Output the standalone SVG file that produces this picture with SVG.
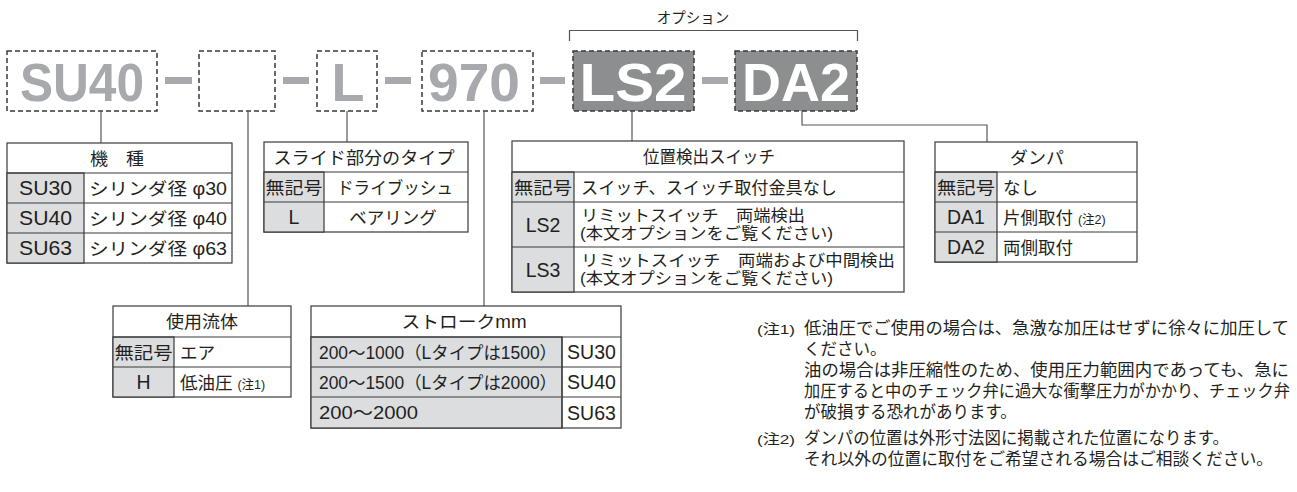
<svg xmlns="http://www.w3.org/2000/svg" width="1297" height="492" viewBox="0 0 1297 492">
<style>
.box{fill:#fff;stroke:#3a3a3a;stroke-width:1.5;stroke-dasharray:5 3}
.boxd{fill:#8d8e90;stroke:#3a3a3a;stroke-width:1.5;stroke-dasharray:5 3}
.big{font-family:"Liberation Sans",Arial,sans-serif;font-weight:bold;font-size:54px;fill:#a7a9ac;text-anchor:middle}
.bigw{fill:#fff}
.bar{fill:#a7a9ac}
.conn{stroke:#555;stroke-width:1.2;fill:none}
.tbl{fill:#fff;stroke:#3a3a3a;stroke-width:1.2}
.cell{fill:#dcdddf;stroke:#3a3a3a;stroke-width:1.2}
.ln{stroke:#3a3a3a;stroke-width:1.2}
.t{font-family:"Liberation Sans","Noto Sans CJK JP",sans-serif;font-size:17.5px;fill:#231f20}
.la{font-family:"Liberation Sans",Arial,sans-serif;font-size:19.5px;fill:#231f20;text-anchor:middle}
.t2{font-family:"Liberation Sans","Noto Sans CJK JP",sans-serif;font-size:16px;fill:#231f20}
.c{text-anchor:middle}
.s{font-size:12.5px}
.n{font-family:"Liberation Sans","Noto Sans CJK JP",sans-serif;font-size:16.5px;fill:#231f20}
.nl{font-family:"Liberation Sans","Noto Sans CJK JP",sans-serif;font-size:13.5px;fill:#231f20}
</style>

<g id="code">
  <rect class="box" x="7" y="51" width="150" height="60"/>
  <text class="big" x="82" y="101" textLength="124" lengthAdjust="spacingAndGlyphs">SU40</text>
  <rect class="bar" x="165" y="77" width="27" height="7"/>
  <rect class="box" x="199" y="51" width="76" height="60"/>
  <rect class="bar" x="283" y="77" width="26" height="7"/>
  <rect class="box" x="317" y="51" width="60" height="60"/>
  <text class="big" x="348" y="101">L</text>
  <rect class="bar" x="385" y="77" width="26" height="7"/>
  <rect class="box" x="422" y="51" width="111" height="60"/>
  <text class="big" x="474" y="101" textLength="92" lengthAdjust="spacingAndGlyphs">970</text>
  <rect class="bar" x="540" y="77" width="25" height="7"/>
  <rect class="boxd" x="573" y="51" width="121" height="60"/>
  <text class="big bigw" x="633" y="101" textLength="107" lengthAdjust="spacingAndGlyphs">LS2</text>
  <rect class="bar" x="702" y="77" width="26" height="7"/>
  <rect class="boxd" x="735" y="51" width="122" height="60"/>
  <text class="big bigw" x="796" y="101" textLength="108" lengthAdjust="spacingAndGlyphs">DA2</text>
</g>

<g id="option">
  <path class="conn" d="M569.5,41 V30.5 H857.5 V41"/>
  <text class="t c" x="693" y="22.5" style="font-size:14.5px">オプション</text>
</g>

<g id="connectors">
  <path class="conn" d="M101,111 V143"/>
  <path class="conn" d="M248,111 V306"/>
  <path class="conn" d="M347,111 V142"/>
  <path class="conn" d="M484,111 V306"/>
  <path class="conn" d="M632,111 V141"/>
  <path class="conn" d="M802,111 V125 H987 V142"/>
</g>

<g id="model">
  <rect class="tbl" x="7" y="143" width="225" height="120"/>
  <rect class="cell" x="7" y="173" width="77" height="90"/>
  <line class="ln" x1="7" y1="173" x2="232" y2="173"/>
  <line class="ln" x1="7" y1="203" x2="232" y2="203"/>
  <line class="ln" x1="7" y1="233" x2="232" y2="233"/>
  <text class="t c" x="117" y="164.5" textLength="54" lengthAdjust="spacingAndGlyphs">機　種</text>
  <text class="la" x="45.5" y="195" textLength="53" lengthAdjust="spacingAndGlyphs">SU30</text>
  <text class="la" x="45.5" y="225" textLength="53" lengthAdjust="spacingAndGlyphs">SU40</text>
  <text class="la" x="45.5" y="255" textLength="53" lengthAdjust="spacingAndGlyphs">SU63</text>
  <text class="t" x="89" y="194.5" textLength="138" lengthAdjust="spacingAndGlyphs">シリンダ径 φ30</text>
  <text class="t" x="89" y="224.5" textLength="138" lengthAdjust="spacingAndGlyphs">シリンダ径 φ40</text>
  <text class="t" x="89" y="254.5" textLength="138" lengthAdjust="spacingAndGlyphs">シリンダ径 φ63</text>
</g>

<g id="slide">
  <rect class="tbl" x="264" y="142" width="204" height="90"/>
  <rect class="cell" x="264" y="172" width="60" height="60"/>
  <line class="ln" x1="264" y1="172" x2="468" y2="172"/>
  <line class="ln" x1="264" y1="202" x2="468" y2="202"/>
  <text class="t c" x="364" y="163.5" textLength="181" lengthAdjust="spacingAndGlyphs">スライド部分のタイプ</text>
  <text class="t c" x="294" y="193.5" textLength="57" lengthAdjust="spacingAndGlyphs">無記号</text>
  <text class="la" x="294" y="224">L</text>
  <text class="t c" x="395" y="193.5" textLength="116" lengthAdjust="spacingAndGlyphs">ドライブッシュ</text>
  <text class="t c" x="393" y="223.5">ベアリング</text>
</g>

<g id="switch">
  <rect class="tbl" x="512" y="141" width="392" height="151"/>
  <rect class="cell" x="512" y="172" width="62" height="120"/>
  <line class="ln" x1="512" y1="172" x2="904" y2="172"/>
  <line class="ln" x1="512" y1="202" x2="904" y2="202"/>
  <line class="ln" x1="512" y1="247" x2="904" y2="247"/>
  <text class="t c" x="709" y="163" textLength="132" lengthAdjust="spacingAndGlyphs">位置検出スイッチ</text>
  <text class="t c" x="543" y="193.5" textLength="58" lengthAdjust="spacingAndGlyphs">無記号</text>
  <text class="la" x="543" y="231.5">LS2</text>
  <text class="la" x="543" y="276.5">LS3</text>
  <text class="t" x="581" y="193.5" textLength="256" lengthAdjust="spacingAndGlyphs">スイッチ、スイッチ取付金具なし</text>
  <text class="t2" x="581" y="221" textLength="224" lengthAdjust="spacingAndGlyphs">リミットスイッチ　両端検出</text>
  <text class="t2" x="580" y="239" textLength="253" lengthAdjust="spacingAndGlyphs">(本文オプションをご覧ください)</text>
  <text class="t2" x="581" y="266" textLength="314" lengthAdjust="spacingAndGlyphs">リミットスイッチ　両端および中間検出</text>
  <text class="t2" x="580" y="284" textLength="253" lengthAdjust="spacingAndGlyphs">(本文オプションをご覧ください)</text>
</g>

<g id="damper">
  <rect class="tbl" x="935" y="142" width="202" height="120"/>
  <rect class="cell" x="935" y="172" width="62" height="90"/>
  <line class="ln" x1="935" y1="172" x2="1137" y2="172"/>
  <line class="ln" x1="935" y1="202" x2="1137" y2="202"/>
  <line class="ln" x1="935" y1="232" x2="1137" y2="232"/>
  <text class="t c" x="1037" y="163.5" textLength="54" lengthAdjust="spacingAndGlyphs">ダンパ</text>
  <text class="t c" x="966" y="193.5" textLength="58" lengthAdjust="spacingAndGlyphs">無記号</text>
  <text class="la" x="966" y="224">DA1</text>
  <text class="la" x="966" y="254">DA2</text>
  <text class="t" x="1003" y="193.5">なし</text>
  <text class="t" x="1003" y="223.5">片側取付 <tspan class="s">(注2)</tspan></text>
  <text class="t" x="1003" y="253.5">両側取付</text>
</g>

<g id="fluid">
  <rect class="tbl" x="113" y="306" width="178" height="91"/>
  <rect class="cell" x="113" y="337" width="61" height="60"/>
  <line class="ln" x1="113" y1="337" x2="291" y2="337"/>
  <line class="ln" x1="113" y1="367" x2="291" y2="367"/>
  <text class="t c" x="202" y="328" textLength="72" lengthAdjust="spacingAndGlyphs">使用流体</text>
  <text class="t c" x="143.5" y="358.5" textLength="58" lengthAdjust="spacingAndGlyphs">無記号</text>
  <text class="la" x="143.5" y="389">H</text>
  <text class="t" x="180" y="358.5">エア</text>
  <text class="t" x="180" y="388.5">低油圧 <tspan class="s">(注1)</tspan></text>
</g>

<g id="stroke">
  <rect class="tbl" x="311" y="306" width="310" height="122"/>
  <rect class="cell" x="311" y="337" width="251" height="91"/>
  <line class="ln" x1="311" y1="337" x2="621" y2="337"/>
  <line class="ln" x1="311" y1="367" x2="621" y2="367"/>
  <line class="ln" x1="311" y1="397" x2="621" y2="397"/>
  <line class="ln" x1="562" y1="337" x2="562" y2="428"/>
  <text class="t c" x="464" y="328" textLength="125" lengthAdjust="spacingAndGlyphs">ストロークmm</text>
  <text class="t" x="319" y="358.5" textLength="238" lengthAdjust="spacingAndGlyphs">200～1000（Lタイプは1500）</text>
  <text class="t" x="319" y="388.5" textLength="238" lengthAdjust="spacingAndGlyphs">200～1500（Lタイプは2000）</text>
  <text class="t" x="319" y="419" textLength="99" lengthAdjust="spacingAndGlyphs">200～2000</text>
  <text class="la" x="591.5" y="359">SU30</text>
  <text class="la" x="591.5" y="389">SU40</text>
  <text class="la" x="591.5" y="419.5">SU63</text>
</g>

<g id="notes">
  <text class="nl" x="757" y="334" textLength="38" lengthAdjust="spacingAndGlyphs">(注1)</text>
  <text class="n" x="804" y="334" textLength="485" lengthAdjust="spacingAndGlyphs">低油圧でご使用の場合は、急激な加圧はせずに徐々に加圧して</text>
  <text class="n" x="804" y="355">ください。</text>
  <text class="n" x="804" y="376" textLength="485" lengthAdjust="spacingAndGlyphs">油の場合は非圧縮性のため、使用圧力範囲内であっても、急に</text>
  <text class="n" x="804" y="397" textLength="486" lengthAdjust="spacingAndGlyphs">加圧すると中のチェック弁に過大な衝撃圧力がかかり、チェック弁</text>
  <text class="n" x="804" y="418">が破損する恐れがあります。</text>
  <text class="nl" x="757" y="444" textLength="38" lengthAdjust="spacingAndGlyphs">(注2)</text>
  <text class="n" x="804" y="444" textLength="425" lengthAdjust="spacingAndGlyphs">ダンパの位置は外形寸法図に掲載された位置になります。</text>
  <text class="n" x="804" y="465" textLength="469" lengthAdjust="spacingAndGlyphs">それ以外の位置に取付をご希望される場合はご相談ください。</text>
</g>
</svg>
